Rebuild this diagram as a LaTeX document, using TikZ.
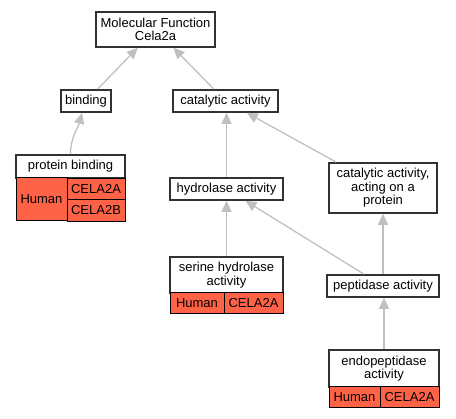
\documentclass[tikz,border=0pt]{standalone}
\usepackage{fontspec}
\setmainfont{Liberation Sans}
\usetikzlibrary{arrows.meta,calc}
\definecolor{tomatoc}{RGB}{255,99,71}
\definecolor{edgegray}{RGB}{192,192,192}
\definecolor{boxborder}{RGB}{50,50,50}
\begin{document}
\begin{tikzpicture}[x=1pt,y=-1pt,
  box/.style={draw=boxborder, line width=1.6pt, fill=white, inner sep=0pt, align=center,
    font=\fontsize{13}{13.5}\selectfont},
  cell/.style={draw=black, line width=1pt, fill=tomatoc, inner sep=0pt, align=center,
    font=\fontsize{13}{13.5}\selectfont},
  edge/.style={draw=edgegray, line width=1.3pt, -{Triangle[length=11pt,width=10pt,fill=edgegray]}}]
\useasboundingbox (0,0) rectangle (456,419);
% nodes
\node[box, minimum width=119, minimum height=35] (mf) at (155.5,29.5) {Molecular Function\\Cela2a};
\node[box, minimum width=50, minimum height=22] (bind) at (86,101) {binding};
\node[box, minimum width=105, minimum height=22] (cat) at (225.5,101) {catalytic activity};
% protein binding
\node[box, minimum width=109, minimum height=23] (pb) at (70.5,166.5) {protein binding};
\node[cell, minimum width=51, minimum height=43] (pbh) at (41.5,199.5) {Human};
\node[cell, minimum width=58, minimum height=21.5] (pba) at (96,189) {CELA2A};
\node[cell, minimum width=58, minimum height=21.5] (pbb) at (96,210.5) {CELA2B};
% hydrolase
\node[box, minimum width=113, minimum height=22] (hyd) at (226.5,189) {hydrolase activity};
\node[box, minimum width=108, minimum height=50] (act) at (383,188) {catalytic activity,\\acting on a\\protein};
% serine
\node[box, minimum width=113, minimum height=36] (ser) at (226.5,275) {serine hydrolase\\activity};
\node[cell, minimum width=54, minimum height=21] (serh) at (197,303.5) {Human};
\node[cell, minimum width=59, minimum height=21] (sera) at (253.5,303.5) {CELA2A};
% peptidase
\node[box, minimum width=112, minimum height=22] (pep) at (383,286) {peptidase activity};
% endopeptidase
\node[box, minimum width=110, minimum height=37] (endo) at (384,368.5) {endopeptidase\\activity};
\node[cell, minimum width=51, minimum height=21] (endoh) at (354.5,397.5) {Human};
\node[cell, minimum width=59, minimum height=21] (endoa) at (409.5,397.5) {CELA2A};
% edges
\draw[edge] (bind) -- (mf);
\draw[edge] (cat) -- (mf);
\draw[edge] (pb.north) to[out=90,in=-105] ($(bind.south)+(-4,0)$);
\draw[edge] (hyd.north) -- (hyd.north |- cat.south);
\draw[edge] (act) -- (cat);
\draw[edge] (ser.north) -- (hyd.south);
\draw[edge] (pep) -- (hyd);
\draw[edge] (pep.north) -- (act.south);
\draw[edge] (endo.north) -- (endo.north |- pep.south);
\end{tikzpicture}
\end{document}
